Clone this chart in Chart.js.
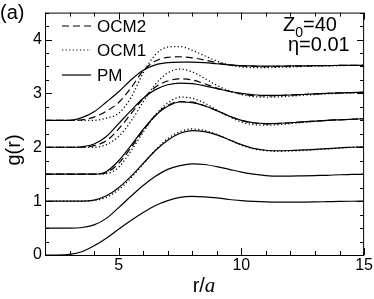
<!DOCTYPE html>
<html>
<head>
<meta charset="utf-8">
<script src="https://cdn.jsdelivr.net/npm/chart.js@4"></script>
<style>
  html, body { margin: 0; padding: 0; background: #fff; }
  canvas { display: block; }
</style>
</head>
<body>
<canvas id="grChart" width="374" height="299"></canvas>
<script>
// r/a sampling points
const rValues = [2, 2.5, 3, 3.5, 4, 4.5, 5, 5.5, 6, 6.5, 7, 7.5, 8, 8.5, 9, 9.5, 10, 10.5, 11, 11.5, 12, 12.5, 13, 13.5, 14, 14.5, 15];

// PM curves (each shifted by 0.5)
const pm0 = [0, 0, 0.01, 0.06, 0.17, 0.31, 0.48, 0.64, 0.79, 0.92, 1.01, 1.07, 1.09, 1.08, 1.06, 1.03, 1.01, 0.995, 0.985, 0.98, 0.98, 0.982, 0.985, 0.99, 0.995, 0.998, 1.0];
const pm1 = [0.5, 0.5, 0.5, 0.51, 0.56, 0.68, 0.88, 1.09, 1.29, 1.46, 1.59, 1.66, 1.69, 1.68, 1.64, 1.59, 1.54, 1.5, 1.475, 1.465, 1.465, 1.47, 1.475, 1.48, 1.49, 1.495, 1.5];
const pm2 = [1, 1, 1, 1, 1.02, 1.1, 1.25, 1.46, 1.7, 1.94, 2.13, 2.26, 2.31, 2.29, 2.23, 2.14, 2.05, 1.98, 1.945, 1.935, 1.94, 1.95, 1.96, 1.975, 1.99, 2.0, 2.01];
const pm3 = [1.5, 1.5, 1.5, 1.5, 1.5, 1.55, 1.75, 2.03, 2.33, 2.59, 2.76, 2.84, 2.83, 2.77, 2.68, 2.58, 2.5, 2.455, 2.44, 2.445, 2.455, 2.47, 2.485, 2.5, 2.51, 2.52, 2.53];
const pm4 = [2, 2, 2, 2.01, 2.06, 2.2, 2.44, 2.68, 2.91, 3.07, 3.16, 3.19, 3.18, 3.14, 3.09, 3.04, 3.0, 2.975, 2.965, 2.965, 2.97, 2.98, 2.99, 3.0, 3.01, 3.015, 3.02];
const pm5 = [2.5, 2.5, 2.5, 2.55, 2.66, 2.84, 3.03, 3.25, 3.43, 3.53, 3.57, 3.58, 3.58, 3.57, 3.55, 3.53, 3.515, 3.51, 3.505, 3.505, 3.51, 3.51, 3.515, 3.515, 3.52, 3.52, 3.52];

// OCM2 (dashed)
const ocm2_3 = [1.5, 1.5, 1.5, 1.5, 1.5, 1.53, 1.7, 1.99, 2.31, 2.59, 2.78, 2.85, 2.84, 2.77, 2.68, 2.58, 2.5, 2.45, 2.435, 2.44, 2.455, 2.47, 2.485, 2.5, 2.51, 2.52, 2.53];
const ocm2_4 = [2, 2, 2, 2, 2.03, 2.12, 2.34, 2.62, 2.9, 3.12, 3.23, 3.27, 3.25, 3.18, 3.1, 3.04, 2.99, 2.96, 2.955, 2.96, 2.97, 2.98, 2.99, 3.0, 3.01, 3.015, 3.02];
const ocm2_5 = [2.5, 2.5, 2.5, 2.51, 2.56, 2.67, 2.83, 3.1, 3.42, 3.6, 3.67, 3.68, 3.66, 3.62, 3.57, 3.53, 3.51, 3.5, 3.495, 3.5, 3.505, 3.51, 3.515, 3.515, 3.52, 3.52, 3.52];

// OCM1 (dotted)
const ocm1_2 = [1, 1, 1, 1, 1.01, 1.07, 1.21, 1.43, 1.69, 1.95, 2.16, 2.29, 2.34, 2.31, 2.24, 2.14, 2.04, 1.97, 1.935, 1.925, 1.93, 1.94, 1.955, 1.97, 1.985, 2.0, 2.01];
const ocm1_3 = [1.5, 1.5, 1.5, 1.5, 1.5, 1.51, 1.63, 1.93, 2.28, 2.6, 2.82, 2.93, 2.91, 2.82, 2.69, 2.57, 2.47, 2.42, 2.41, 2.42, 2.44, 2.46, 2.48, 2.5, 2.51, 2.52, 2.53];
const ocm1_4 = [2, 2, 2, 2, 2, 2.05, 2.2, 2.48, 2.84, 3.17, 3.38, 3.45, 3.4, 3.28, 3.15, 3.05, 2.98, 2.94, 2.93, 2.935, 2.95, 2.965, 2.98, 2.995, 3.0, 3.01, 3.02];
const ocm1_5 = [2.5, 2.5, 2.5, 2.5, 2.5, 2.54, 2.63, 2.92, 3.38, 3.72, 3.86, 3.87, 3.8, 3.7, 3.6, 3.53, 3.49, 3.48, 3.48, 3.485, 3.49, 3.5, 3.505, 3.51, 3.515, 3.52, 3.52];

const xMajorTicks = [5, 10, 15];
const yMajorTicks = [0, 1, 2, 3, 4];

const DASH = [7, 4];
const DOT = [1.2, 2.4];
const SANS = "'Liberation Sans', Arial, sans-serif";
const SERIF = "'Liberation Serif', 'Times New Roman', serif";

function toPoints(ys) {
  return ys.map((v, i) => ({ x: rValues[i], y: v }));
}

function line(ys, dash) {
  return {
    data: toPoints(ys),
    borderColor: "#000",
    borderWidth: dash === DOT ? 1.3 : 1.2,
    borderDash: dash || [],
    pointRadius: 0,
    fill: false,
    cubicInterpolationMode: "monotone",
  };
}

const datasets = [
  line(ocm1_2, DOT), line(ocm1_3, DOT), line(ocm1_4, DOT), line(ocm1_5, DOT),
  line(ocm2_3, DASH), line(ocm2_4, DASH), line(ocm2_5, DASH),
  line(pm0), line(pm1), line(pm2), line(pm3), line(pm4), line(pm5),
];

// frame, inward ticks, legend and labels
const decorations = {
  id: "decorations",
  afterDatasetsDraw(chart) {
    const { ctx, chartArea: a, scales } = chart;
    const x = scales.x, y = scales.y;
    ctx.save();
    ctx.strokeStyle = "#000";
    ctx.fillStyle = "#000";
    ctx.lineWidth = 1;
    ctx.setLineDash([]);
    ctx.strokeRect(a.left + 0.5, a.top + 0.5, a.right - a.left - 1, a.bottom - a.top);

    ctx.beginPath();
    for (let v = 2; v <= 15; v++) {
      const px = Math.round(x.getPixelForValue(v)) + 0.5;
      const len = xMajorTicks.includes(v) ? 7 : 4;
      ctx.moveTo(px, a.bottom); ctx.lineTo(px, a.bottom - len);
      ctx.moveTo(px, a.top); ctx.lineTo(px, a.top + len);
    }
    for (let i = 0; i <= 18; i++) {
      const v = i * 0.25;
      const py = Math.round(y.getPixelForValue(v)) + 0.5;
      const len = yMajorTicks.includes(v) ? 7 : 4;
      ctx.moveTo(a.left, py); ctx.lineTo(a.left + len, py);
      ctx.moveTo(a.right, py); ctx.lineTo(a.right - len, py);
    }
    ctx.stroke();

    // legend
    const legend = [["OCM2", DASH, 26], ["OCM1", DOT, 50], ["PM", [], 75]];
    ctx.font = "17px " + SANS;
    ctx.textBaseline = "middle";
    legend.forEach(([label, dash, ly]) => {
      ctx.beginPath();
      ctx.setLineDash(dash);
      ctx.lineWidth = 1.2;
      ctx.moveTo(62, ly); ctx.lineTo(91, ly);
      ctx.stroke();
      ctx.fillText(label, 97, ly + 1);
    });
    ctx.setLineDash([]);

    // parameters
    ctx.textBaseline = "alphabetic";
    ctx.font = "20px " + SANS;
    ctx.fillText("Z", 283, 31);
    const zw = ctx.measureText("Z").width;
    ctx.font = "14px " + SANS;
    ctx.fillText("0", 283 + zw, 37);
    const sw = ctx.measureText("0").width;
    ctx.font = "20px " + SANS;
    ctx.fillText("=40", 283 + zw + sw, 31);
    ctx.fillText("\u03b7=0.01", 288, 51);

    // panel mark
    ctx.fillText("(a)", 0, 19);

    // axis titles
    ctx.save();
    ctx.translate(20, 150);
    ctx.rotate(-Math.PI / 2);
    ctx.textAlign = "center";
    ctx.fillText("g(r)", 0, 0);
    ctx.restore();

    ctx.font = "20px " + SANS;
    const w1 = ctx.measureText("r/").width;
    ctx.font = "italic 21px " + SERIF;
    const w2 = ctx.measureText("a").width;
    const sx = 204 - (w1 + w2) / 2;
    ctx.font = "20px " + SANS;
    ctx.fillText("r/", sx, 292);
    ctx.font = "italic 21px " + SERIF;
    ctx.fillText("a", sx + w1, 292);
    ctx.restore();
  },
};

const tickFont = { family: SANS, size: 16 };

new Chart(document.getElementById("grChart"), {
  type: "line",
  data: { datasets: datasets },
  options: {
    responsive: false,
    animation: false,
    devicePixelRatio: 1,
    layout: { padding: { left: 0, right: 9, top: 10, bottom: 0 } },
    plugins: { legend: { display: false }, tooltip: { enabled: false } },
    scales: {
      x: {
        type: "linear",
        min: 2,
        max: 15,
        afterFit: (s) => { s.height = 44; },
        grid: { display: false, drawTicks: false },
        border: { display: false },
        ticks: {
          stepSize: 1,
          autoSkip: false,
          maxRotation: 0,
          padding: 1,
          color: "#000",
          font: tickFont,
          callback: (v) => (xMajorTicks.includes(v) ? String(v) : ""),
        },
      },
      y: {
        min: 0,
        max: 4.5,
        afterFit: (s) => { s.width = 45; },
        grid: { display: false, drawTicks: false },
        border: { display: false },
        ticks: {
          stepSize: 0.25,
          autoSkip: false,
          padding: 3,
          color: "#000",
          font: tickFont,
          callback: (v) => (yMajorTicks.includes(v) ? String(v) : ""),
        },
      },
    },
  },
  plugins: [decorations],
});
</script>
</body>
</html>
